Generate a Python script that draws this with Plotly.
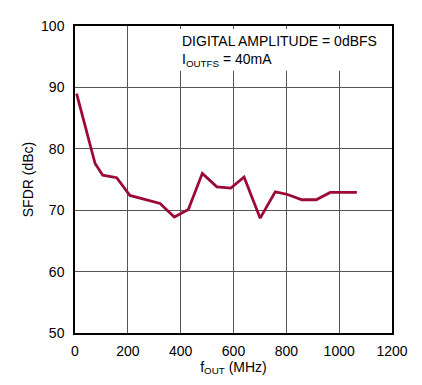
import plotly.graph_objects as go

fout_mhz = [6, 76, 105, 158, 208, 322, 376, 429, 482, 537, 590, 640, 701, 758, 802, 859, 913, 966, 1067]
sfdr_dbc = [89.0, 77.6, 75.7, 75.3, 72.4, 71.1, 68.9, 70.1, 76.0, 73.8, 73.6, 75.4, 68.7, 73.0, 72.6, 71.7, 71.7, 72.9, 72.9]
x_ticks = [0, 200, 400, 600, 800, 1000, 1200]
y_ticks = [50, 60, 70, 80, 90, 100]
note_text = "DIGITAL AMPLITUDE = 0dBFS<br>I<sub>OUTFS</sub> = 40mA"

FONT = "Liberation Sans Narrow, Arial Narrow, Liberation Sans, Arial"

fig = go.Figure()
fig.add_trace(go.Scatter(x=fout_mhz, y=sfdr_dbc, mode="lines",
                         line=dict(color="#9a0a35", width=2.8), showlegend=False))

fig.update_layout(
    width=414, height=377,
    margin=dict(l=67, r=30, t=10, b=52),
    paper_bgcolor="white", plot_bgcolor="white",
    font=dict(family=FONT, size=14, color="black"),
    xaxis=dict(range=[0, 1200], tickvals=x_ticks, showgrid=True, gridcolor="#555555", gridwidth=1.2,
               showline=True, linecolor="black", linewidth=1.5, mirror=True, zeroline=False,
               ticks="", ticklabelstandoff=4,
               title=dict(text="f<sub>OUT</sub> (MHz)", standoff=4, font=dict(size=14))),
    yaxis=dict(range=[50, 100], tickvals=y_ticks, showgrid=True, gridcolor="#555555", gridwidth=1.2,
               showline=True, linecolor="black", linewidth=1.5, mirror=True, zeroline=False,
               ticks="", ticklabelstandoff=6,
               title=dict(text="SFDR (dBc)", standoff=4, font=dict(size=14))),
    shapes=[dict(type="rect", xref="x", yref="y", x0=396, x1=1196, y0=92.7, y1=99.5,
                 fillcolor="white", line=dict(width=0), layer="above")],
    annotations=[
        dict(x=400, y=95.9, xref="x", yref="y", xanchor="left", yanchor="middle",
             text=note_text, showarrow=False, align="left", font=dict(size=14),
             borderpad=0),
    ],
)
fig.write_html("out.html")
